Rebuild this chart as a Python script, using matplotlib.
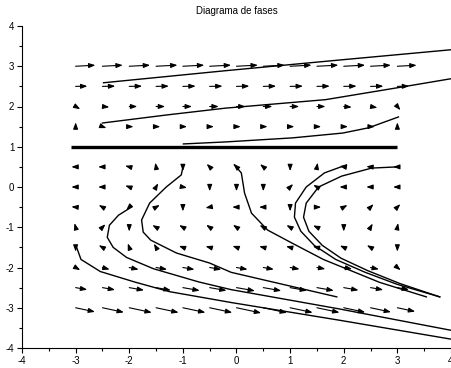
import numpy as np
import matplotlib.pyplot as plt

# grid of the direction field
xs = [-3, -2.5, -2, -1.5, -1, -0.5, 0, 0.5, 1, 1.5, 2, 2.5, 3]
ys = [3, 2.5, 2, 1.5, 1, 0.5, 0, -0.5, -1, -1.5, -2, -2.5, -3]

# arrow direction (degrees, as seen on screen), one row per y value
ang = [
    [3] * 13,
    [1] * 13,
    [-30, -5, 0, 0, 0, 0, 0, 0, 0, 0, -5, -10, -50],
    [90, -20, 0, 0, 0, 0, 0, 0, 0, 0, 0, 0, 90],
    [0] * 13,
    [180, 180, 165, 100, 270, 135, 135, 140, 270, 80, 170, 175, 180],
    [180, 180, 160, 60, -10, 270, 270, 270, 45, 150, 180, 180, 180],
    [175, 150, 225, 30, 270, 190, 180, 180, 270, 0, 30, 45, 45],
    [105, 45, 270, 150, 150, 145, 145, 150, 150, 155, 270, 60, 80],
    [270, 150, 110, 120, 160, 165, 160, 165, 165, 165, 155, 150, 270],
    [-30, -15, -12, -10, -10, -10, -10, -10, -10, -10, -10, -12, -40],
    [-10] * 13,
    [-12] * 13,
]
# arrow length (x-axis units)
mag = [
    [0.37, 0.38, 0.39, 0.40, 0.40, 0.40, 0.40, 0.40, 0.40, 0.40, 0.40, 0.38, 0.36],
    [0.22, 0.24, 0.24, 0.24, 0.24, 0.24, 0.24, 0.24, 0.24, 0.24, 0.24, 0.24, 0.22],
    [0.10, 0.13, 0.15, 0.17, 0.17, 0.17, 0.17, 0.17, 0.17, 0.16, 0.15, 0.13, 0.09],
    [0.08] * 13,
    [0] * 13,
    [0.08] * 13,
    [0.08] * 13,
    [0.08] * 13,
    [0.08] * 13,
    [0.08] * 13,
    [0.10, 0.14, 0.18, 0.21, 0.22, 0.22, 0.21, 0.20, 0.18, 0.16, 0.16, 0.16, 0.08],
    [0.22, 0.24, 0.28, 0.28, 0.32, 0.32, 0.35, 0.34, 0.32, 0.32, 0.28, 0.24, 0.22],
    [0.37, 0.41, 0.43, 0.43, 0.43, 0.43, 0.47, 0.45, 0.43, 0.43, 0.41, 0.39, 0.34],
]

# trajectories
traj_a = [(-2.48, 2.59), (-0.2, 2.89), (1.8, 3.14), (4.0, 3.41)]
traj_b = [(-2.5, 1.59), (-1.3, 1.79), (-0.2, 1.96), (1.66, 2.17), (3.02, 2.47), (4.0, 2.69)]
traj_c = [(-0.99, 1.07), (-0.2, 1.12), (1.04, 1.22), (1.98, 1.34), (2.46, 1.47), (3.02, 1.74)]
traj_d = [(-2.99, -1.47), (-2.9, -1.8), (-2.54, -2.1), (-1.9, -2.36), (-1.25, -2.6),
          (-0.1, -2.87), (1.92, -3.31), (4.0, -3.78)]
traj_e = [(-1.96, -0.5), (-2.2, -0.7), (-2.37, -0.95), (-2.41, -1.25), (-2.3, -1.5),
          (-2.05, -1.75), (-1.55, -2.03), (-0.7, -2.36), (-0.1, -2.55), (1.92, -3.03),
          (4.0, -3.56)]
traj_f = [(-0.99, 0.55), (-1.03, 0.3), (-1.31, 0.0), (-1.62, -0.4), (-1.77, -0.82),
          (-1.74, -1.12), (-1.6, -1.32), (-1.12, -1.64), (-0.5, -1.89), (-0.1, -2.12),
          (0.9, -2.43), (1.87, -2.73)]
traj_g = [(-0.04, 0.55), (0.09, 0.35), (0.15, -0.15), (0.28, -0.65), (0.58, -1.07),
          (1.03, -1.39), (1.62, -1.8), (2.67, -2.37), (3.54, -2.73)]
traj_h1 = [(2.05, 0.55), (1.64, 0.35), (1.3, 0.0), (1.1, -0.4), (1.08, -0.75),
           (1.2, -1.1), (1.45, -1.45), (1.85, -1.8), (2.4, -2.12), (3.0, -2.42),
           (3.79, -2.73)]
traj_h2 = [(3.0, 0.5), (2.52, 0.47), (1.96, 0.27), (1.53, 0.0), (1.3, -0.4),
           (1.25, -0.75), (1.35, -1.1), (1.6, -1.45), (1.95, -1.77), (2.45, -2.08),
           (3.05, -2.4), (3.79, -2.73)]
trajs = [traj_a, traj_b, traj_c, traj_d, traj_e, traj_f, traj_g, traj_h1, traj_h2]
line_y1 = [(-3.08, 1.0), (3.0, 1.0)]

plt.rcParams["font.family"] = ["Liberation Sans", "DejaVu Sans"]
plt.rcParams["axes.unicode_minus"] = False

fig = plt.figure(figsize=(4.52, 3.68), dpi=100)
ax = fig.add_axes([22 / 452, 20 / 368, 429 / 452, 322 / 368])
ax.set_xlim(-4, 4)
ax.set_ylim(-4, 4)
ax.set_title("Diagrama de fases", fontsize=7, pad=9)
ax.spines["top"].set_visible(False)
ax.spines["right"].set_visible(False)
ax.set_xticks(range(-4, 5))
ax.set_yticks(range(-4, 5))
ax.set_xticks(np.arange(-3.5, 4, 1), minor=True)
ax.set_yticks(np.arange(-3.5, 4, 1), minor=True)
ax.tick_params(which="major", length=3.5, width=0.8, labelsize=7, pad=2)
ax.tick_params(which="minor", length=2, width=0.8)

# pixels per data unit, so arrow directions match what is seen on screen
p0 = ax.transData.transform((0, 0))
sx = ax.transData.transform((1, 0))[0] - p0[0]
sy = ax.transData.transform((0, 1))[1] - p0[1]

for i, y in enumerate(ys):
    for j, x in enumerate(xs):
        m = mag[i][j]
        if m == 0:
            continue
        a = np.radians(ang[i][j])
        dx = m * np.cos(a)
        dy = m * np.sin(a) * sx / sy
        ax.annotate("", xy=(x + dx, y + dy), xytext=(x, y),
                    arrowprops=dict(arrowstyle="-|>,head_length=0.38,head_width=0.14",
                                    color="black", lw=0.8, shrinkA=0, shrinkB=0))

for t in trajs:
    t = np.array(t)
    ax.plot(t[:, 0], t[:, 1], color="black", lw=1.0)

t = np.array(line_y1)
ax.plot(t[:, 0], t[:, 1], color="black", lw=2.4, solid_capstyle="butt")

fig.savefig("out.png", dpi=100)
